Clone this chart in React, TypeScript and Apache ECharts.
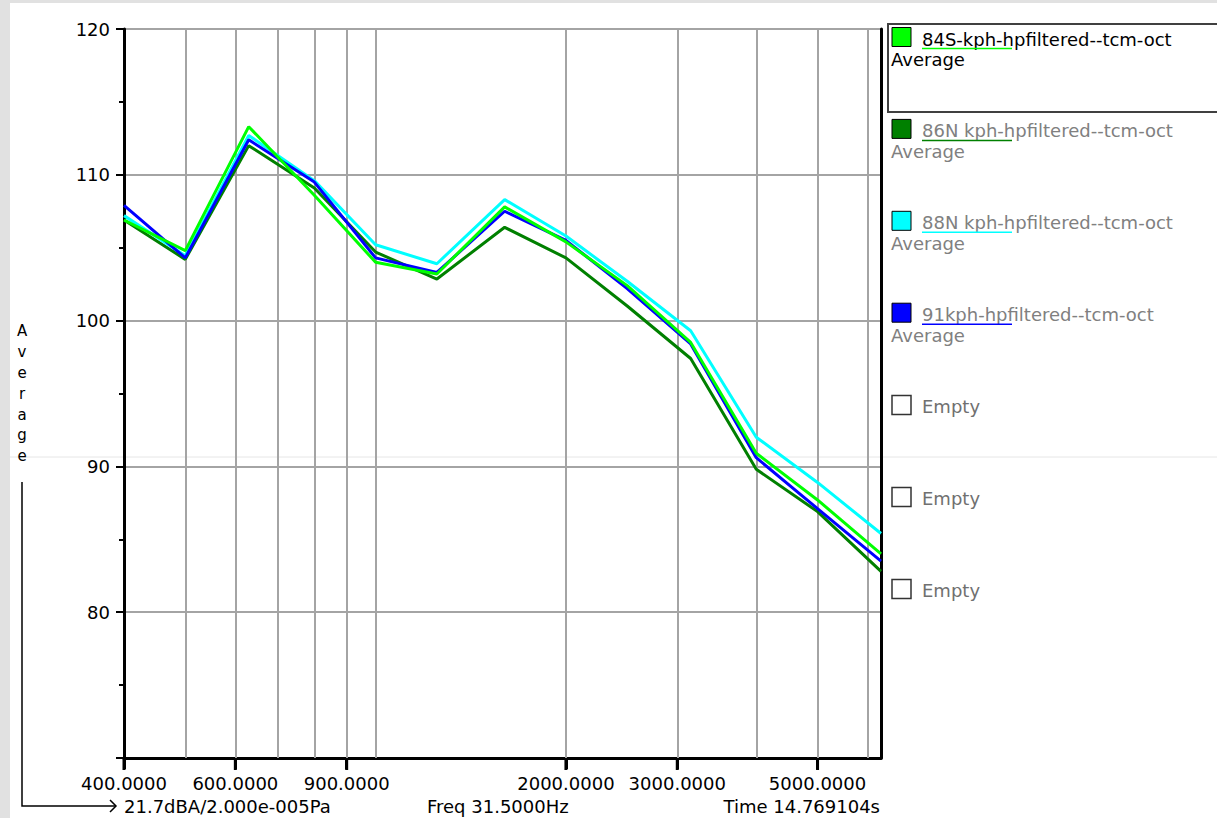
import React, { useEffect, useRef } from "react";
import * as echarts from "echarts";

// ---- data ----
const freqs = [400, 500, 630, 800, 1000, 1250, 1600, 2000, 2500, 3150, 4000, 5000, 6300];
const seriesNames = [
  "84S-kph-hpfiltered--tcm-oct",
  "86N kph-hpfiltered--tcm-oct",
  "88N kph-hpfiltered--tcm-oct",
  "91kph-hpfiltered--tcm-oct",
];
const seriesColors = ["#00ff00", "#008000", "#00ffff", "#0000ff"];
const s84S = [106.9, 104.8, 113.3, 108.6, 104.0, 103.2, 107.8, 105.4, 102.4, 98.5, 90.9, 87.7, 84.0];
const s86N = [106.9, 104.2, 112.0, 109.1, 104.7, 102.85, 106.4, 104.3, 101.0, 97.4, 89.8, 86.9, 82.8];
const s88N = [107.2, 104.45, 112.7, 109.6, 105.2, 103.9, 108.3, 105.8, 102.7, 99.3, 92.0, 88.9, 85.4];
const s91 = [107.9, 104.3, 112.4, 109.5, 104.3, 103.3, 107.5, 105.5, 102.2, 98.4, 90.6, 87.1, 83.5];
const seriesValues = [s84S, s86N, s88N, s91];
const drawOrder = [1, 2, 3, 0];

const xMin = 400;
const xMax = 6300;
const xLabelFreqs = [400, 600, 900, 2000, 3000, 5000];
const xGridFreqs = [500, 600, 700, 800, 900, 1000, 2000, 3000, 4000, 5000, 6000];
const yMin = 70;
const yMax = 120;
const yInterval = 10;

const legendSubLabel = "Average";
const emptySlots = ["Empty", "Empty", "Empty"];
const yAxisTitle = "Average";
const footerLeft = "21.7dBA/2.000e-005Pa";
const footerMid = "Freq 31.5000Hz";
const footerRight = "Time 14.769104s";

const FONT = "DejaVu Sans";

export default function App() {
  const ref = useRef<HTMLDivElement>(null);

  useEffect(() => {
    if (!ref.current) return;
    const chart = echarts.init(ref.current, null, { renderer: "svg" });

    const series: any[] = drawOrder.map((i, n) => {
      const s: any = {
        name: seriesNames[i],
        type: "line",
        data: freqs.map((f, k) => [f, seriesValues[i][k]]),
        symbol: "none",
        lineStyle: { color: seriesColors[i], width: 3 },
        itemStyle: { color: seriesColors[i] },
      };
      if (n === 0) {
        // vertical log-grid lines, positioned through the x axis scale
        s.markLine = {
          z: 1,
          silent: true,
          symbol: ["none", "none"],
          label: { show: false },
          emphasis: { disabled: true },
          lineStyle: { color: "#a4a4a4", width: 2, type: "solid" },
          data: xGridFreqs.map((f) => ({ xAxis: f })),
        };
      }
      return s;
    });

    const graphics: any[] = [];
    graphics.push({
      type: "line",
      shape: { x1: 10, y1: 457, x2: 1217, y2: 457 },
      style: { stroke: "#e6e6e6", lineWidth: 1 },
      z: -90,
      silent: true,
    });

    const step = 91.9;
    const top0 = 39;
    const textStyle = (text: string, fill: string, align: string, size = 18) => ({
      text,
      fill,
      fontSize: size,
      fontFamily: FONT,
      align,
      verticalAlign: "middle",
      textAlign: align,
      textVerticalAlign: "middle",
    });
    seriesNames.forEach((name, i) => {
      const ty = top0 + i * step;
      const textColor = i === 0 ? "#000000" : "#808080";
      graphics.push({
        type: "rect",
        shape: { x: 892, y: ty - 11.5, width: 19, height: 19 },
        style: { fill: seriesColors[i], stroke: "#000000", lineWidth: 1 },
        silent: true,
      });
      graphics.push({ type: "text", x: 922, y: ty, style: textStyle(name, textColor, "left"), silent: true });
      graphics.push({
        type: "line",
        shape: { x1: 922, y1: ty + 9.5, x2: 1012, y2: ty + 9.5 },
        style: { stroke: seriesColors[i], lineWidth: 1.5 },
        silent: true,
      });
      graphics.push({
        type: "text",
        x: 891,
        y: ty + 20.5,
        style: textStyle(legendSubLabel, textColor, "left"),
        silent: true,
      });
    });
    emptySlots.forEach((label, j) => {
      const ty = top0 + (seriesNames.length + j) * step;
      graphics.push({
        type: "rect",
        shape: { x: 892, y: ty - 11, width: 19, height: 19 },
        style: { fill: "#ffffff", stroke: "#333333", lineWidth: 1.5 },
        silent: true,
      });
      graphics.push({ type: "text", x: 922, y: ty, style: textStyle(label, "#707070", "left"), silent: true });
    });
    graphics.push({
      type: "rect",
      shape: { x: 888, y: 24, width: 340, height: 88 },
      style: { fill: "none", stroke: "#404040", lineWidth: 2 },
      silent: true,
    });

    graphics.push({
      type: "text",
      x: 22,
      y: 321,
      style: {
        text: yAxisTitle.split("").join("\n"),
        fill: "#000000",
        fontSize: 15,
        fontFamily: FONT,
        lineHeight: 20.8,
        align: "center",
        verticalAlign: "top",
        textAlign: "center",
        textVerticalAlign: "top",
      },
      silent: true,
    });
    graphics.push({
      type: "polyline",
      shape: { points: [[22, 482], [22, 806], [115, 806]] },
      style: { stroke: "#000000", lineWidth: 1.5, fill: "none" },
      silent: true,
    });
    graphics.push({
      type: "polyline",
      shape: { points: [[110, 800], [116, 806], [110, 812]] },
      style: { stroke: "#000000", lineWidth: 1.5, fill: "none" },
      silent: true,
    });
    graphics.push({ type: "text", x: 124, y: 806, style: textStyle(footerLeft, "#000000", "left"), silent: true });
    graphics.push({ type: "text", x: 427, y: 806, style: textStyle(footerMid, "#000000", "left"), silent: true });
    graphics.push({ type: "text", x: 880, y: 806, style: textStyle(footerRight, "#000000", "right"), silent: true });

    const option: any = {
      animation: false,
      backgroundColor: "transparent",
      grid: { left: 124, top: 29, right: 1217 - 881, bottom: 818 - 758 },
      xAxis: {
        type: "log",
        min: xMin,
        max: xMax,
        axisLine: { show: true, lineStyle: { color: "#000000", width: 3 } },
        axisTick: {
          show: true,
          customValues: xLabelFreqs,
          length: 11,
          lineStyle: { color: "#000000", width: 3 },
        },
        axisLabel: {
          show: true,
          customValues: xLabelFreqs,
          formatter: (v: number) => Number(v).toFixed(4),
          color: "#000000",
          fontSize: 18,
          fontFamily: FONT,
          margin: 16,
        },
        splitLine: { show: false },
        minorTick: { show: false },
        minorSplitLine: { show: false },
      },
      yAxis: [
        {
          type: "value",
          min: yMin,
          max: yMax,
          interval: yInterval,
          axisLine: { show: true, lineStyle: { color: "#000000", width: 3 } },
          axisTick: { show: true, length: 8, lineStyle: { color: "#000000", width: 2 } },
          minorTick: { show: true, splitNumber: 2, length: 5, lineStyle: { color: "#000000", width: 2 } },
          axisLabel: {
            formatter: (v: number) => (v === yMin ? "" : String(v)),
            color: "#000000",
            fontSize: 18,
            fontFamily: FONT,
            margin: 14,
          },
          splitLine: { show: true, lineStyle: { color: "#a4a4a4", width: 2 } },
        },
        {
          type: "value",
          min: yMin,
          max: yMax,
          interval: yInterval,
          position: "right",
          axisLine: { show: true, lineStyle: { color: "#000000", width: 3 } },
          axisTick: { show: false },
          axisLabel: { show: false },
          splitLine: { show: false },
        },
      ],
      series,
      graphic: { elements: graphics },
    };

    chart.setOption(option);

    // major x ticks hanging below the axis, positioned through the axis scale
    const yPix = chart.convertToPixel({ yAxisIndex: 0 } as any, yMin) as any as number;
    const tickEls = xLabelFreqs.map((f) => {
      const xPix = chart.convertToPixel({ xAxisIndex: 0 } as any, f) as any as number;
      return {
        type: "line",
        z: 50,
        shape: { x1: xPix, y1: yPix, x2: xPix, y2: yPix + 12 },
        style: { stroke: "#000000", lineWidth: 3 },
        silent: true,
      };
    });
    chart.setOption({ graphic: { elements: [...graphics, ...tickEls] } });

    return () => {
      chart.dispose();
    };
  }, []);

  return (
    <div style={{ position: "absolute", left: 0, top: 0, width: 1217, height: 818, background: "#e1e1e1" }}>
      <div style={{ position: "absolute", left: 10, top: 3, right: 0, bottom: 0, background: "#ffffff" }} />
      <div ref={ref} style={{ position: "absolute", left: 0, top: 0, width: 1217, height: 818 }} />
    </div>
  );
}
